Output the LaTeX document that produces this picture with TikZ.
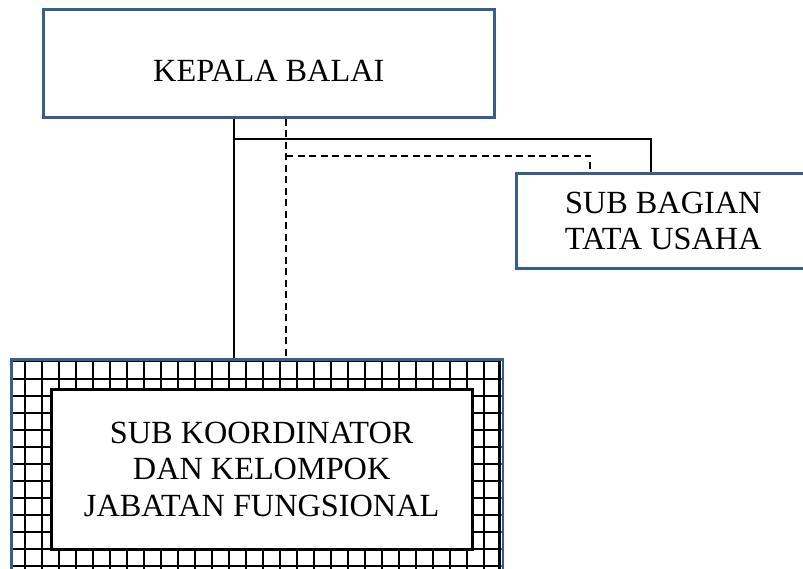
\documentclass[tikz,border=0pt]{standalone}
\usepackage{fontspec}
\setmainfont{Liberation Serif}
\usepackage{tikz}
\definecolor{boxblue}{HTML}{385D8A}

\begin{document}
\begin{tikzpicture}[x=1pt, y=-1pt,
	box/.style={rectangle, draw=boxblue, line width=2.5pt, align=center, font=\fontsize{32.3}{36.5}\selectfont},
	grid line/.style={black, line width=2.6pt},
	conn/.style={black, line width=2pt},
	dashconn/.style={conn, dash pattern=on 7pt off 4.5pt}]

\useasboundingbox (0,0) rectangle (803,568);
\clip (0,0) rectangle (803,568);

\node[box, minimum width=451pt, minimum height=108pt, text height=37pt, text depth=0pt] (kepala) at (268.8,63.3) {KEPALA BALAI};
\node[box, minimum width=294pt, minimum height=95pt, anchor=north west] (bagian) at (515,172.3) {SUB BAGIAN\\TATA USAHA};

% grid fill of the lower box
\begin{scope}
	\clip (10,358) rectangle (501.5,570);
	\foreach \x in {25, 42, ..., 484} {
		\draw[grid line] (\x, 358) -- (\x, 570); % vertical
	}
	\foreach \y in {379, 396, ..., 566} {
		\draw[grid line] (10, \y) -- (501.5, \y); % horizontal
	}
	\draw[grid line] (12, 361) rectangle (499.5, 580); % along the border
\end{scope}

\node[box, draw=black, line width=3pt, fill=white, minimum width=421pt, minimum height=160pt] (koordinator) at (261.7,469.3) {SUB KOORDINATOR\\DAN KELOMPOK\\JABATAN FUNGSIONAL};
\node[rectangle, draw=boxblue, line width=2.5pt, inner sep=0pt, minimum width=491.5pt, minimum height=212pt, anchor=north west] (fungsional) at (10,358) {};

\coordinate (solid bend) at (234,139.3);
\coordinate (dash bend) at (286,155.7);

\draw[conn] (kepala.south -| solid bend) -- (fungsional.north -| solid bend);
\draw[conn] (solid bend) -| ([xshift=-12pt]bagian.north);
\draw[dashconn] (kepala.south -| dash bend) -- (fungsional.north -| dash bend);
\draw[dashconn] (dash bend) -| ([xshift=-73pt]bagian.north);

\end{tikzpicture}
\end{document}
